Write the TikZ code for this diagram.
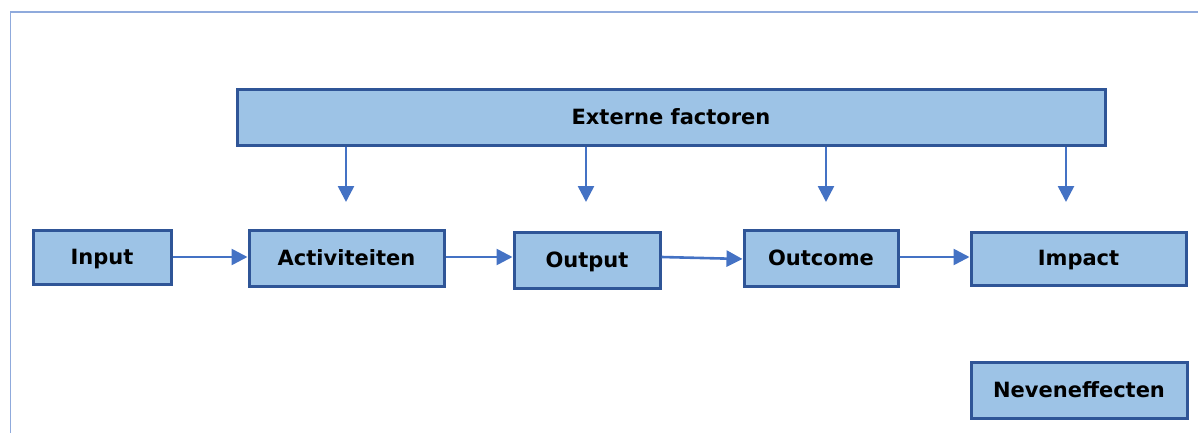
\documentclass[tikz,border=0pt]{standalone}
\usepackage{fontspec}
\setmainfont{DejaVu Sans}
\usetikzlibrary{arrows.meta}

\definecolor{boxfill}{HTML}{9DC3E6}
\definecolor{boxline}{HTML}{2F5597}
\definecolor{arrowblue}{HTML}{4472C4}
\definecolor{frameblue}{HTML}{8FAADC}

\tikzstyle{block} = [draw=boxline, line width=3pt, fill=boxfill, inner sep=0pt,
    text height=15pt, text depth=1pt,
    font=\fontsize{21}{25}\selectfont\bfseries]
\tikzstyle{flow} = [draw=arrowblue, line width=2.6pt, -{Triangle[width=16pt,length=16pt]}]

\begin{document}
\begin{tikzpicture}[x=1pt, y=-1pt]
\useasboundingbox (0,0) rectangle (1198,433);
% frame
\draw[frameblue, line width=1.6pt] (10.5,433) -- (10.5,12) -- (1198,12);

\node[block, minimum width=868pt, minimum height=55pt] (ext) at (671,117.5) {Externe factoren};
\node[block, minimum width=138pt, minimum height=54pt] (input) at (102,257) {Input};
\node[block, minimum width=195pt, minimum height=56pt] (act) at (346.5,258) {Activiteiten};
\node[block, minimum width=146pt, minimum height=56pt] (output) at (587,260) {Output};
\node[block, minimum width=154pt, minimum height=56pt] (outcome) at (821,258) {Outcome};
\node[block, minimum width=215pt, minimum height=53pt] (impact) at (1078.5,258.5) {Impact};
\node[block, minimum width=216pt, minimum height=56pt] (neven) at (1079,390) {Neveneffecten};

% influence of external factors
\foreach \xpos/\name in {346/dact, 586/doutput, 826/doutcome, 1066/dimpact} {
    \coordinate (\name) at (\xpos,202);
    \draw[flow] (ext.south -| \name) -- (\name);
}

% chain
\draw[flow] (input.east) -- (act.west |- input.east);
\draw[flow] (act.east |- input.east) -- (output.west |- input.east);
\draw[flow] (output.east |- input.east) -- (outcome.west |- 0,259);
\draw[flow] (outcome.east |- input.east) -- (impact.west |- input.east);
\end{tikzpicture}
\end{document}
